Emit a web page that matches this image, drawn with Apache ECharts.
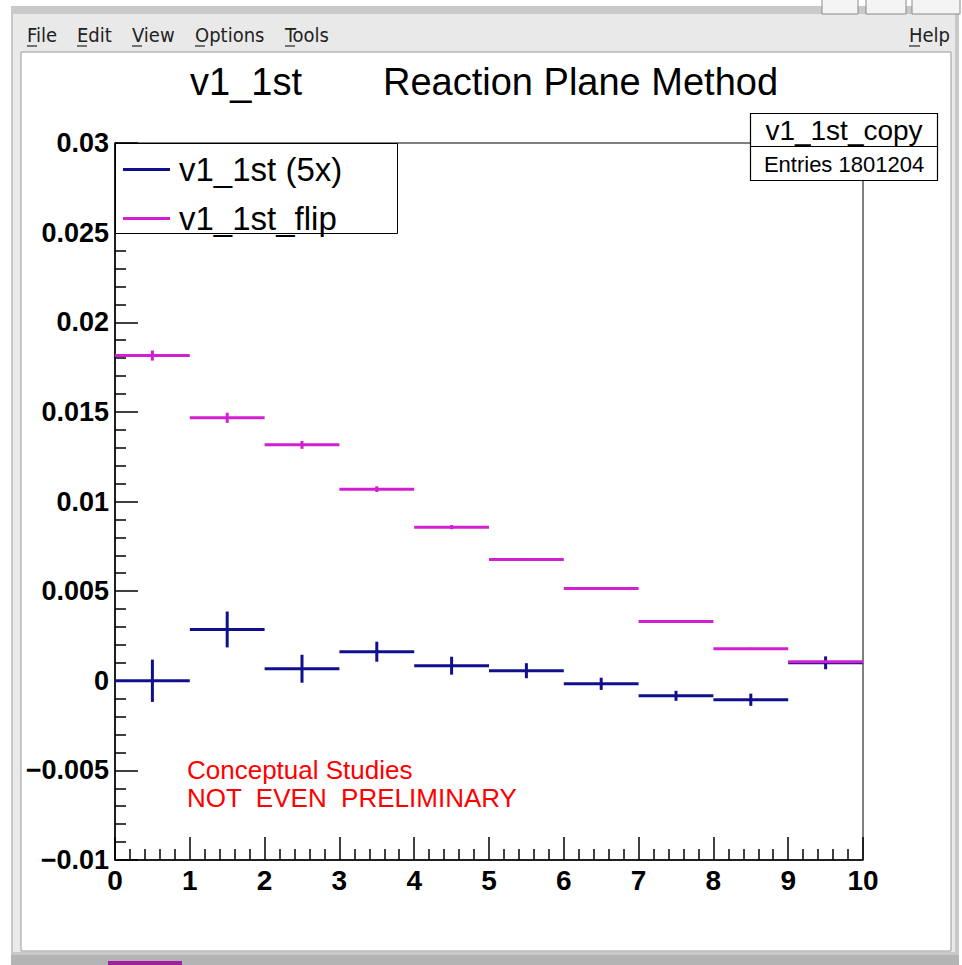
<!DOCTYPE html>
<html>
<head>
<meta charset="utf-8">
<script src="https://cdn.jsdelivr.net/npm/echarts@6/dist/echarts.min.js"></script>
<style>
html,body{margin:0;padding:0;background:#ffffff;}
#chart{width:962px;height:965px;}
</style>
</head>
<body>
<div id="chart"></div>
<script>
// ---- data ----
const binLow  = [0, 1, 2, 3, 4, 5, 6, 7, 8, 9];
const binHigh = [1, 2, 3, 4, 5, 6, 7, 8, 9, 10];
const v1Values   = [0.0000, 0.00286, 0.00067, 0.00162, 0.00084, 0.00056, -0.00017, -0.00084, -0.00106, 0.00100];
const v1Errors   = [0.00118, 0.00100, 0.00078, 0.00056, 0.00050, 0.00042, 0.00034, 0.00028, 0.00034, 0.00036];
const flipValues = [0.01814, 0.01467, 0.01316, 0.01069, 0.00857, 0.00677, 0.00515, 0.00330, 0.00179, 0.00106];
const flipErrors = [0.00028, 0.00028, 0.00022, 0.00016, 0.00012, 0.00008, 0.00006, 0.00005, 0.00005, 0.00006];
const seriesNames = ['v1_1st (5x)', 'v1_1st_flip'];
const xTickLabels = ['0','1','2','3','4','5','6','7','8','9','10'];
const yTickLabels = {'-0.01':'\u22120.01','-0.005':'\u22120.005','0':'0','0.005':'0.005','0.01':'0.01','0.015':'0.015','0.02':'0.02','0.025':'0.025','0.03':'0.03'};
const menuItems = ['File', 'Edit', 'View', 'Options', 'Tools'];
const titleLeft = 'v1_1st';
const titleRight = 'Reaction Plane Method';
const statsName = 'v1_1st_copy';
const statsEntries = 'Entries 1801204';
const noteLines = ['Conceptual Studies', 'NOT  EVEN  PRELIMINARY'];

const BLUE = '#10108e';
const MAGENTA = '#d21fd2';
const HELV = '"Liberation Sans", Arial, sans-serif';
const MENU = '"DejaVu Sans Condensed", "DejaVu Sans", sans-serif';

function buildData(vals, errs) {
  return binLow.map((lo, i) => [lo, binHigh[i], vals[i], errs[i]]);
}

function makeRender(color) {
  return function (params, api) {
    const lo = api.value(0), hi = api.value(1), y = api.value(2), e = api.value(3);
    const mid = (lo + hi) / 2;
    const a = api.coord([lo, y]);
    const b = api.coord([hi, y]);
    const t = api.coord([mid, y + e]);
    const d = api.coord([mid, y - e]);
    return {
      type: 'group',
      children: [
        {type: 'line', shape: {x1: a[0], y1: a[1], x2: b[0], y2: b[1]}, style: {stroke: color, lineWidth: 3}},
        {type: 'line', shape: {x1: t[0], y1: t[1], x2: d[0], y2: d[1]}, style: {stroke: color, lineWidth: 3}}
      ]
    };
  };
}

const chart = echarts.init(document.getElementById('chart'), null, {renderer: 'svg'});

const graphics = [
  // window chrome
  {type: 'rect', shape: {x: 11, y: 6, width: 948, height: 959}, style: {fill: '#c9c9c9'}, z: -10},
  {type: 'rect', shape: {x: 13, y: 14, width: 942, height: 938}, style: {fill: '#e9e9e9'}, z: -9},
  {type: 'rect', shape: {x: 21, y: 52, width: 930, height: 899}, style: {fill: '#ffffff', stroke: '#9a9a9a', lineWidth: 1}, z: -8},
  {type: 'rect', shape: {x: 11, y: 955, width: 948, height: 10}, style: {fill: '#b4b4b4'}, z: -7},
  {type: 'rect', shape: {x: 108, y: 961, width: 74, height: 4}, style: {fill: '#a020a0'}, z: -6},
  {type: 'rect', shape: {x: 822, y: -2, width: 36, height: 16}, style: {fill: '#f4f4f4', stroke: '#8a8a8a', lineWidth: 1}, z: -6},
  {type: 'rect', shape: {x: 866, y: -2, width: 40, height: 16}, style: {fill: '#f4f4f4', stroke: '#8a8a8a', lineWidth: 1}, z: -6},
  {type: 'rect', shape: {x: 912, y: -2, width: 48, height: 16}, style: {fill: '#f4f4f4', stroke: '#8a8a8a', lineWidth: 1}, z: -6},
  // title
  {type: 'text', left: 190, top: 63, style: {text: titleLeft, font: '38px ' + HELV, fill: '#000'}},
  {type: 'text', left: 383, top: 63, style: {text: titleRight, font: '38px ' + HELV, fill: '#000'}},
  // legend box
  {type: 'rect', shape: {x: 115.5, y: 143.5, width: 282, height: 90}, style: {fill: '#ffffff', stroke: '#000', lineWidth: 1}, z: 5},
  // stats box
  {type: 'rect', shape: {x: 750.5, y: 113.5, width: 187, height: 33}, style: {fill: '#ffffff', stroke: '#000', lineWidth: 1.2}, z: 5},
  {type: 'rect', shape: {x: 750.5, y: 146.5, width: 187, height: 34}, style: {fill: '#ffffff', stroke: '#000', lineWidth: 1.2}, z: 5},
  {type: 'text', x: 844, y: 130, style: {text: statsName, font: '28px ' + HELV, fill: '#000', align: 'center', verticalAlign: 'middle'}, z: 6},
  {type: 'text', x: 844, y: 164, style: {text: statsEntries, font: '22px ' + HELV, fill: '#000', align: 'center', verticalAlign: 'middle'}, z: 6},
  // note
  {type: 'text', x: 187, y: 770, style: {text: noteLines[0], font: '26px ' + HELV, fill: '#ff0000', verticalAlign: 'middle'}, z: 6},
  {type: 'text', x: 187, y: 798, style: {text: noteLines[1], font: '26px ' + HELV, fill: '#ff0000', verticalAlign: 'middle'}, z: 6},
  // menu help
  {type: 'text', x: 950, y: 35, style: {text: 'Help', font: '20px ' + MENU, fill: '#222', align: 'right', verticalAlign: 'middle'}},
  {type: 'line', shape: {x1: 909, y1: 46, x2: 920, y2: 46}, style: {stroke: '#222', lineWidth: 1.2}}
];
const menuX = [27, 77, 132, 195, 285];
menuItems.forEach((m, i) => {
  graphics.push({type: 'text', x: menuX[i], y: 35, style: {text: m, font: '20px ' + MENU, fill: '#222', verticalAlign: 'middle'}});
  graphics.push({type: 'line', shape: {x1: menuX[i], y1: 46, x2: menuX[i] + 10, y2: 46}, style: {stroke: '#222', lineWidth: 1.2}});
});

const option = {
  backgroundColor: 'transparent',
  animation: false,
  grid: {left: 115, right: 99, top: 143, bottom: 105, show: true, borderColor: '#000', borderWidth: 1,
         backgroundColor: '#fff', containLabel: false, outerBoundsMode: 'none'},
  legend: {
    orient: 'vertical', left: 118, top: 148, itemWidth: 47, itemHeight: 3, itemGap: 16,
    icon: 'rect', z: 10,
    textStyle: {fontFamily: HELV, fontSize: 33, color: '#000', padding: [0, 0, 0, 4]},
    data: seriesNames
  },
  xAxis: {
    type: 'value', min: 0, max: 10, interval: 1,
    axisLine: {show: true, onZero: false, lineStyle: {color: '#000', width: 1.5}},
    axisTick: {show: true, inside: true, length: 23, lineStyle: {color: '#000', width: 1.5}},
    minorTick: {show: true, splitNumber: 5, length: 11, lineStyle: {color: '#000', width: 1.5}},
    splitLine: {show: false},
    axisLabel: {margin: 6, fontFamily: HELV, fontWeight: 'bold', fontSize: 28, color: '#000',
      formatter: v => xTickLabels[Math.round(v)]}
  },
  yAxis: {
    type: 'value', min: -0.01, max: 0.03, interval: 0.005,
    axisLine: {show: true, onZero: false, lineStyle: {color: '#000', width: 1.5}},
    axisTick: {show: true, inside: true, length: 23, lineStyle: {color: '#000', width: 1.5}},
    minorTick: {show: true, splitNumber: 5, length: 11, lineStyle: {color: '#000', width: 1.5}},
    splitLine: {show: false},
    axisLabel: {margin: 6, fontFamily: HELV, fontWeight: 'bold', fontSize: 27, color: '#000',
      formatter: v => { const k = String(Math.round(v * 1000) / 1000); return yTickLabels[k] !== undefined ? yTickLabels[k] : k; }}
  },
  graphic: graphics,
  series: [
    {name: seriesNames[0], type: 'custom', color: BLUE, itemStyle: {color: BLUE},
     encode: {x: [0, 1], y: [2, 3]}, renderItem: makeRender(BLUE), data: buildData(v1Values, v1Errors), z: 3},
    {name: seriesNames[1], type: 'custom', color: MAGENTA, itemStyle: {color: MAGENTA},
     encode: {x: [0, 1], y: [2, 3]}, renderItem: makeRender(MAGENTA), data: buildData(flipValues, flipErrors), z: 4}
  ]
};
chart.setOption(option);
</script>
</body>
</html>
